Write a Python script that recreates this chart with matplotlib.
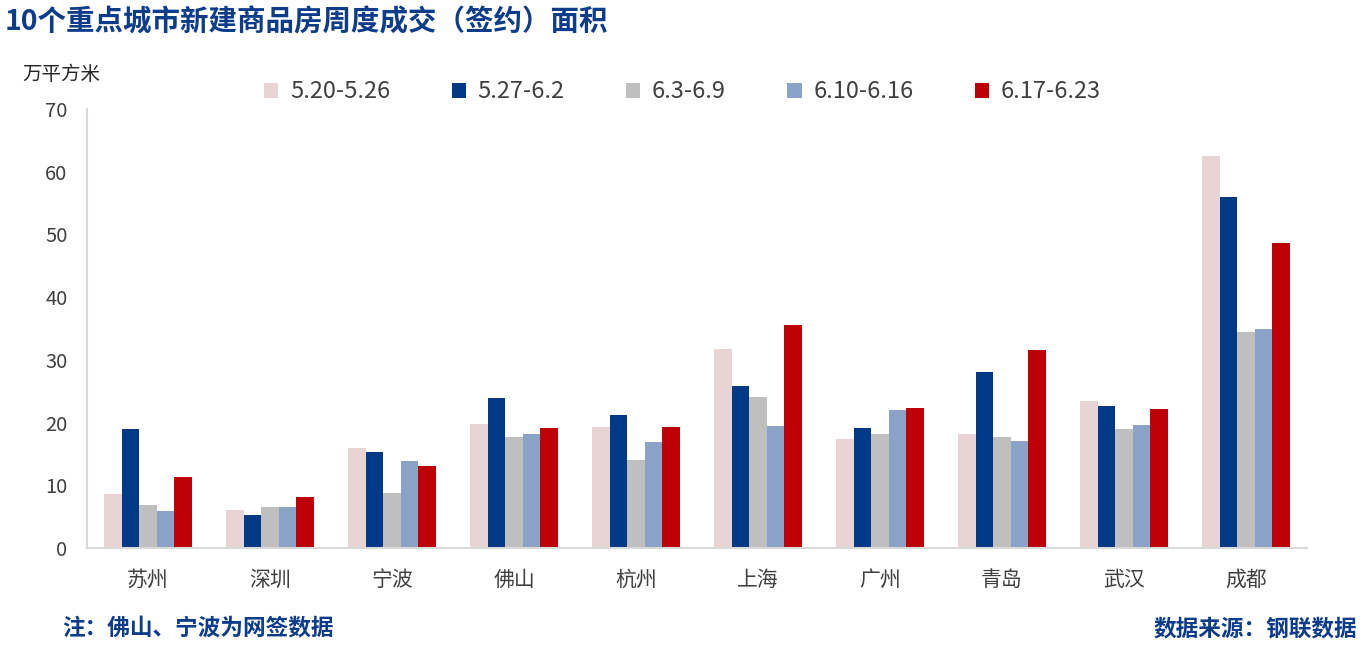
import matplotlib
matplotlib.use("Agg")
import matplotlib.pyplot as plt
import numpy as np

plt.rcParams['font.family'] = ['Noto Sans CJK SC', 'DejaVu Sans']

# data (万平方米)
cities = ["苏州", "深圳", "宁波", "佛山", "杭州", "上海", "广州", "青岛", "武汉", "成都"]
weeks = ["5.20-5.26", "5.27-6.2", "6.3-6.9", "6.10-6.16", "6.17-6.23"]
w1 = [8.6, 6.1, 15.9, 19.8, 19.3, 31.7, 17.4, 18.2, 23.4, 62.5]
w2 = [19.0, 5.3, 15.3, 23.9, 21.2, 25.8, 19.1, 28.1, 22.6, 56.0]
w3 = [6.9, 6.5, 8.8, 17.7, 14.0, 24.1, 18.2, 17.7, 19.0, 34.4]
w4 = [5.9, 6.5, 13.9, 18.2, 16.9, 19.5, 22.0, 17.1, 19.6, 34.9]
w5 = [11.3, 8.1, 13.1, 19.1, 19.3, 35.6, 22.3, 31.6, 22.2, 48.6]
colors = ["#E8D4D4", "#003A86", "#BFBFBF", "#8AA2C6", "#BC0006"]

fig = plt.figure(figsize=(13.64, 6.52), dpi=100)
ax = fig.add_axes([87/1364, 1-548/652, (1307-87)/1364, (548-109)/652])

x = np.arange(len(cities))
bw = 0.144
series = [w1, w2, w3, w4, w5]
for i, vals in enumerate(series):
    ax.bar(x + (i-2)*bw, vals, width=bw, color=colors[i], label=weeks[i])

ax.set_xlim(-0.5, len(cities)-0.5)
ax.set_ylim(0, 70)
ax.set_yticks(range(0, 71, 10))
ax.set_xticks(x)
ax.set_xticklabels(cities, fontsize=15, color="#404040")
ax.tick_params(axis='y', labelsize=14.5, labelcolor="#404040", length=0, pad=14)
ax.tick_params(axis='x', length=0, pad=15)
for s in ["top", "right"]:
    ax.spines[s].set_visible(False)
for s in ["left", "bottom"]:
    ax.spines[s].set_color("#D9D9D9")
    ax.spines[s].set_linewidth(1.5)

fig.legend(loc="center", bbox_to_anchor=(0.5005, 1-92/652), ncol=5, frameon=False,
           fontsize=17, labelcolor="#404040", handlelength=0.6, handleheight=0.6,
           handletextpad=0.5, columnspacing=2.6)

fig.text(5/1364, 1-22/652, "10个重点城市新建商品房周度成交（签约）面积", fontsize=20.5,
         fontweight="bold", color="#0D3C8A", va="center", ha="left")
fig.text(22/1364, 1-75/652, "万平方米", fontsize=14, color="#262626", va="center", ha="left")
fig.text(62/1364, 1-629/652, "注：佛山、宁波为网签数据", fontsize=16.3, fontweight="bold",
         color="#0D3C8A", va="center", ha="left")
fig.text(1357/1364, 1-629/652, "数据来源：钢联数据", fontsize=16.3, fontweight="bold",
         color="#0D3C8A", va="center", ha="right")

fig.savefig("out.png", dpi=100)
